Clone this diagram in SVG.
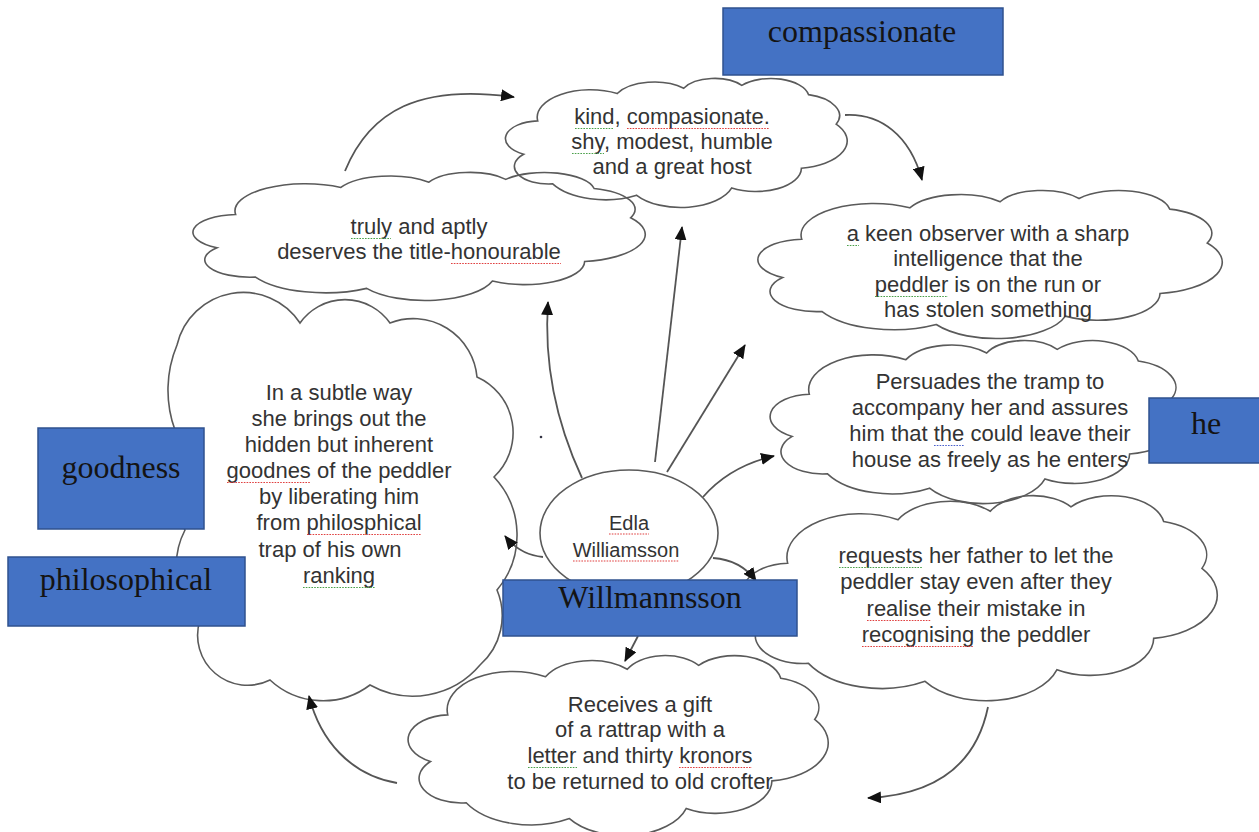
<svg xmlns="http://www.w3.org/2000/svg" width="1259" height="832" viewBox="0 0 1259 832">
<style>
.cl{fill:none;stroke:#5a5a5a;stroke-width:1.6}
.tx{font-family:"Liberation Sans",Arial,sans-serif;font-size:22px;fill:#333;text-anchor:middle}
.sm{font-size:20px}
.bx{fill:#4472C4;stroke:#2F528F;stroke-width:1.5}
.bt{font-family:"Liberation Serif","Times New Roman",serif;font-size:32px;fill:#141414;text-anchor:middle}
.cn{fill:none;stroke:#555;stroke-width:1.8;marker-end:url(#arr)}
.sq{fill:none;stroke-width:1.2;stroke-dasharray:1.6 1.2}
.r{stroke:#e04040}
.g{stroke:#4aa04a}
.b{stroke:#4a60cc}
</style>
<defs>
<path id="cloud" vector-effect="non-scaling-stroke" d="M9.03,33.26 A15.63,21.27 0 0 1 32.42,12.05 A12.34,16.82 0 0 1 51.98,7.95 A10.10,13.76 0 0 1 69.06,5.75 A11.24,15.27 0 0 1 88.70,12.92 A12.34,16.84 0 0 1 96.81,35.80 A15.68,21.34 0 0 1 86.59,69.92 A13.39,18.21 0 0 1 66.10,85.22 A15.63,21.33 0 0 1 38.15,90.90 A17.87,24.41 0 0 1 13.44,82.11 A10.09,13.70 0 0 1 4.89,59.15 A10.06,13.76 0 0 1 9.03,33.26 Z"/>
<marker id="arr" viewBox="0 0 14 12" refX="13" refY="6" markerWidth="14" markerHeight="12" markerUnits="userSpaceOnUse" orient="auto">
<path d="M0,0 L14,6 L0,12 Z" fill="#111"/>
</marker>
</defs>
<rect width="1259" height="832" fill="#fff"/>

<g id="node-traits">
<use href="#cloud" class="cl" transform="translate(507,78) scale(3.40,1.29)"/>
<text class="tx" x="672" y="124">kind, compasionate.</text>
<text class="tx" x="672" y="149">shy, modest, humble</text>
<text class="tx" x="672" y="174">and a great host</text>
<path class="sq g" d="M575,128.5 H614"/>
<path class="sq r" d="M627,128.5 H769"/>
<path class="sq g" d="M572,153.5 H604"/>
</g>

<g id="node-honourable">
<use href="#cloud" class="cl" transform="translate(195,172) scale(4.50,1.28)"/>
<text class="tx" x="419" y="234">truly and aptly</text>
<text class="tx" x="419" y="259">deserves the title-honourable</text>
<path class="sq g" d="M351,238.5 H391"/>
<path class="sq r" d="M451,263.5 H561"/>
</g>

<g id="node-observer">
<use href="#cloud" class="cl" transform="translate(760,190) scale(4.62,1.48)"/>
<text class="tx" x="988" y="241">a keen observer with a sharp</text>
<text class="tx" x="988" y="266">intelligence that the</text>
<text class="tx" x="988" y="292">peddler is on the run or</text>
<text class="tx" x="988" y="317">has stolen something</text>
<path class="sq g" d="M847,245.5 H859"/>
<path class="sq g" d="M875,296.5 H948"/>
</g>

<g id="node-goodness">
<path class="cl" d="M177,345 A68,68 0 0 1 300,323 A55,55 0 0 1 390,323 A64,64 0 0 1 477,377 A61,61 0 0 1 494,477 A85,85 0 0 1 497,590 A66,66 0 0 1 480,665 A88,88 0 0 1 370,685 A78,78 0 0 1 270,680 A50,50 0 0 1 200,620 A76,76 0 0 1 185,530 A110,110 0 0 1 175,430 A117,117 0 0 1 177,345 Z"/>
<text class="tx" x="339" y="400">In a subtle way</text>
<text class="tx" x="339" y="426">she brings out the</text>
<text class="tx" x="339" y="452">hidden but inherent</text>
<text class="tx" x="339" y="478">goodnes of the peddler</text>
<text class="tx" x="339" y="504">by liberating him</text>
<text class="tx" x="339" y="530">from philosphical</text>
<text class="tx" x="330" y="557">trap of his own</text>
<text class="tx" x="339" y="583">ranking</text>
<path class="sq r" d="M227,482.5 H311"/>
<path class="sq r" d="M307,534.5 H421"/>
<path class="sq g" d="M303,587.5 H375"/>
</g>

<g id="node-persuades">
<use href="#cloud" class="cl" transform="translate(772,340) scale(4.13,1.63)"/>
<text class="tx" x="990" y="389">Persuades the tramp to</text>
<text class="tx" x="990" y="415">accompany her and assures</text>
<text class="tx" x="990" y="441">him that the could leave their</text>
<text class="tx" x="990" y="467">house as freely as he enters</text>
<path class="sq b" d="M934,445.5 H964"/>
</g>

<g id="node-requests">
<use href="#cloud" class="cl" transform="translate(745,495) scale(4.72,2.05)"/>
<text class="tx" x="976" y="563">requests her father to let the</text>
<text class="tx" x="976" y="589">peddler stay even after they</text>
<text class="tx" x="976" y="616">realise their mistake in</text>
<text class="tx" x="976" y="642">recognising the peddler</text>
<path class="sq g" d="M839,567.5 H922"/>
<path class="sq r" d="M867,620.5 H931"/>
<path class="sq r" d="M862,646.5 H974"/>
</g>

<g id="node-gift">
<use href="#cloud" class="cl" transform="translate(410,655) scale(4.18,1.80)"/>
<text class="tx" x="640" y="712">Receives a gift</text>
<text class="tx" x="640" y="737">of a rattrap with a</text>
<text class="tx" x="640" y="763">letter and thirty kronors</text>
<text class="tx" x="640" y="789">to be returned to old crofter</text>
<path class="sq g" d="M528,767.5 H577"/>
<path class="sq r" d="M679,767.5 H752"/>
</g>

<g id="node-edla">
<ellipse cx="629" cy="533" rx="89" ry="63" class="cl"/>
<text class="tx sm" x="629" y="530">Edla</text>
<text class="tx sm" x="626" y="557">Williamsson</text>
<path class="sq r" d="M609,534 H649"/>
<path class="sq r" d="M573,561 H679"/>
</g>

<circle cx="541" cy="437" r="1.3" fill="#334"/>

<g id="connectors">
<path class="cn" d="M345,171 C370,110 420,84 514,97"/>
<path class="cn" d="M845,115 C880,113 910,135 922,180"/>
<path class="cn" d="M582,478 C555,420 544,360 548,302"/>
<path class="cn" d="M655,462 L682,227"/>
<path class="cn" d="M667,472 L745,345"/>
<path class="cn" d="M703,497 Q730,466 774,456"/>
<path class="cn" d="M543,557 Q520,555 505,536"/>
<path class="cn" d="M713,558 Q741,560 756,581"/>
<path class="cn" d="M638,636 L625,661"/>
<path class="cn" d="M988,707 C975,770 930,795 868,798"/>
<path class="cn" d="M397,783 C350,775 320,740 309,696"/>
</g>

<g id="label-compassionate">
<rect class="bx" x="723" y="8" width="280" height="67"/>
<text class="bt" x="862" y="42">compassionate</text>
</g>
<g id="label-goodness">
<rect class="bx" x="38" y="428" width="166" height="101"/>
<text class="bt" x="121" y="478">goodness</text>
</g>
<g id="label-philosophical">
<rect class="bx" x="8" y="557" width="237" height="69"/>
<text class="bt" x="126" y="590">philosophical</text>
</g>
<g id="label-he">
<rect class="bx" x="1149" y="398" width="112" height="65"/>
<text class="bt" x="1206" y="434">he</text>
</g>
<g id="label-willmannsson">
<rect class="bx" x="503" y="580" width="294" height="56"/>
<text class="bt" x="650" y="608">Willmannsson</text>
</g>
</svg>
